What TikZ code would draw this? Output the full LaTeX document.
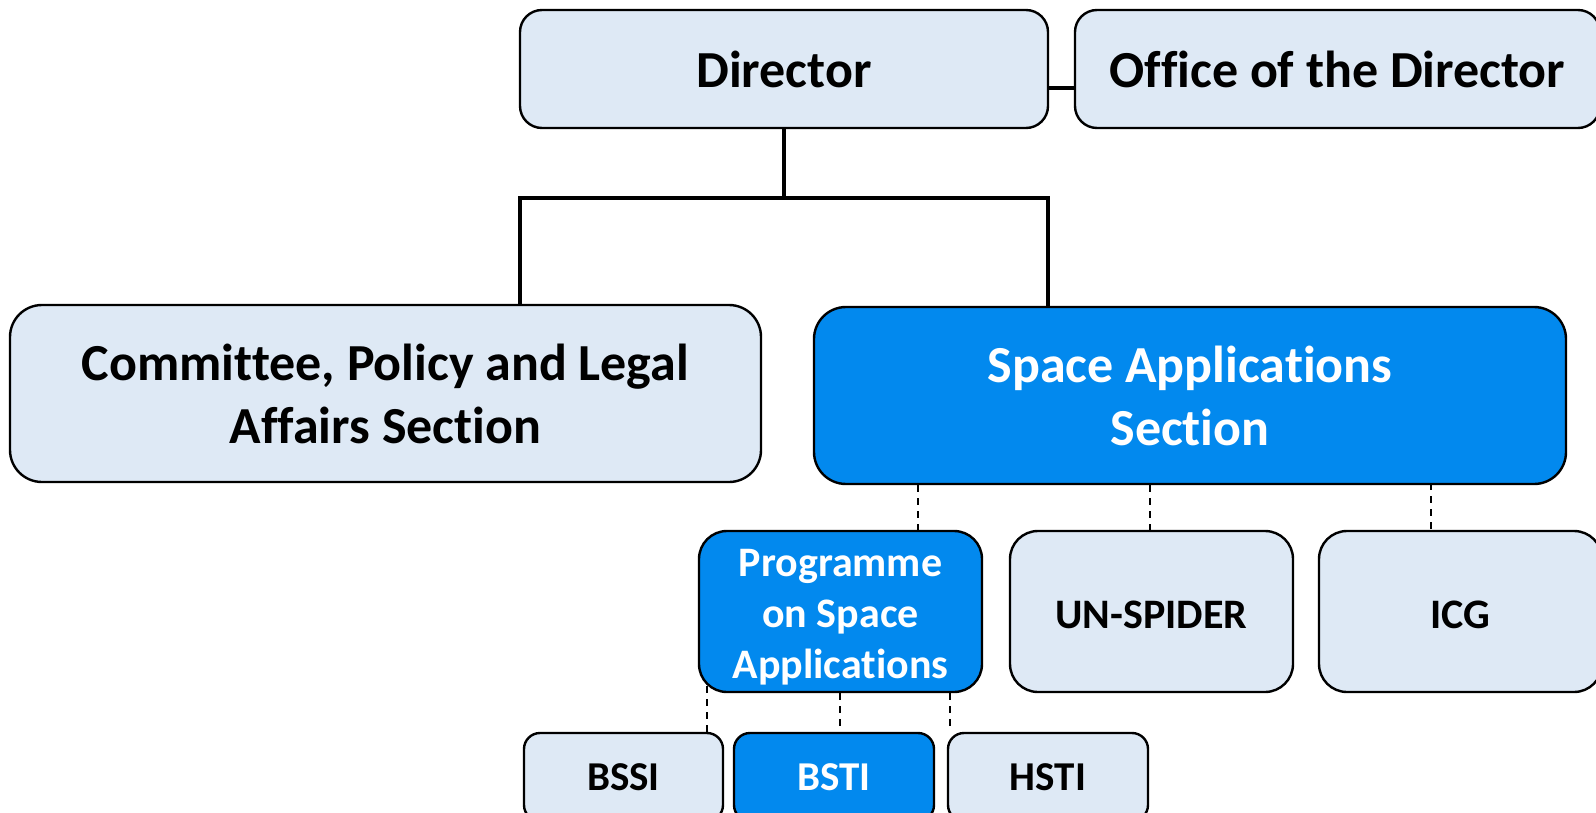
\documentclass[tikz,border=0pt]{standalone}
\usepackage{fontspec}
\setmainfont{Carlito}[Ligatures=NoCommon]
\definecolor{paleblue}{RGB}{222,233,245}
\definecolor{brightblue}{RGB}{2,137,238}
% lower a label inside its box without changing the box's size
\newcommand{\lowerlabel}[2]{\raisebox{-#1}[\height][\depth]{#2}}
\begin{document}
\begin{tikzpicture}[x=1pt,y=-1pt,
  box/.style={draw=black,line width=2.4pt,inner sep=0pt,align=center,font=\bfseries},
  light/.style={box,fill=paleblue,text=black},
  dark/.style={box,fill=brightblue,text=white},
  big/.style={font=\fontsize{52}{63}\selectfont\bfseries},
  mid/.style={font=\fontsize{42}{51}\selectfont\bfseries},
  small/.style={font=\fontsize{41}{49}\selectfont\bfseries},
  solidlink/.style={line width=3.2pt},
  dashlink/.style={line width=1.6pt,dash pattern=on 7pt off 6pt}]
\useasboundingbox (0,0) rectangle (1596,813);
\clip (0,0) rectangle (1596,813);

% top level
\node[light,big,rounded corners=22pt,minimum width=528pt,minimum height=118pt] (dir) at (784,69) {Director};
\node[light,big,rounded corners=22pt,minimum width=525pt,minimum height=118pt] (office) at (1337.5,69) {Office of the Director};

% sections
\node[light,big,rounded corners=32pt,minimum width=751pt,minimum height=177pt] (cpla) at (385.5,393.5) {Committee, Policy and Legal\\Affairs Section};
\node[dark,big,rounded corners=32pt,minimum width=752pt,minimum height=177pt] (sas) at (1190,395.5) {Space Applications\\Section};

% units under the Space Applications Section
\node[dark,mid,rounded corners=28pt,minimum width=283pt,minimum height=161pt] (psa) at (840.5,611.5)
  {\lowerlabel{6pt}{\begin{tabular}{@{}c@{}}Programme\\on Space\\Applications\end{tabular}}};
\node[light,mid,rounded corners=28pt,minimum width=283pt,minimum height=161pt] (spider) at (1151.5,611.5) {\lowerlabel{3pt}{UN-SPIDER}};
\node[light,mid,rounded corners=28pt,minimum width=283pt,minimum height=161pt] (icg) at (1460.5,611.5) {\lowerlabel{3pt}{ICG}};

% initiatives under the Programme
\node[light,small,rounded corners=16pt,minimum width=199pt,minimum height=88pt] (bssi) at (623.5,777) {BSSI};
\node[dark,small,rounded corners=16pt,minimum width=200pt,minimum height=88pt] (bsti) at (834,777) {BSTI};
\node[light,small,rounded corners=16pt,minimum width=200pt,minimum height=88pt] (hsti) at (1048,777) {HSTI};

% solid reporting lines
\coordinate (bus) at (784,198);
\coordinate (busL) at (520,198);
\coordinate (busR) at (1048,198);
\coordinate (offy) at (0,88);
\draw[solidlink] (dir.east |- offy) -- (office.west |- offy);
\draw[solidlink] (dir.south) -- (bus);
\draw[solidlink,line cap=rect] (busL) -- (busR);
\draw[solidlink] (busL) -- (cpla.north -| busL);
\draw[solidlink] (busR) -- (sas.north -| busR);

% dashed lines to units
\coordinate (d1) at (918,0);
\coordinate (d2) at (1150,0);
\coordinate (d3) at (1431,0);
\draw[dashlink] (sas.south -| d1) -- (psa.north -| d1);
\draw[dashlink] (sas.south -| d2) -- (spider.north -| d2);
\draw[dashlink] ([yshift=2pt]sas.south -| d3) -- (icg.north -| d3);

\coordinate (e1) at (707,686);
\coordinate (e2) at (840,0);
\coordinate (e3) at (950,0);
\draw[dashlink] (e1) -- (bssi.north -| e1);
\draw[dashlink] (psa.south -| e2) -- (bsti.north -| e2);
\draw[dashlink] (psa.south -| e3) -- (hsti.north -| e3);
\end{tikzpicture}
\end{document}
